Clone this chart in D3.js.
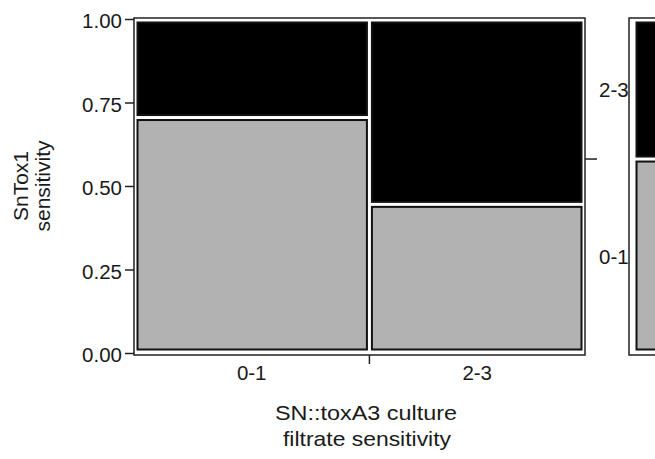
<!DOCTYPE html>
<html><head><meta charset="utf-8">
<script src="https://cdn.jsdelivr.net/npm/d3@7"></script>
<style>body{margin:0;background:#fff}svg{display:block}text{font-family:"Liberation Sans",Arial,sans-serif;fill:#1a1a1a}</style>
</head><body><svg id="c" width="655" height="459"></svg>
<script>
// Data
const xCategories = ["0-1", "2-3"];            // SN::toxA3 culture filtrate sensitivity
const yCategories = ["0-1", "2-3"];            // SnTox1 sensitivity (bottom to top)
const columnShare = [0.522, 0.478];            // relative width of each x category
const lowShare = [0.705, 0.445];               // share of "0-1" within each column
const yTicks = [0, 0.25, 0.5, 0.75, 1];
const yTickLabels = ["0.00", "0.25", "0.50", "0.75", "1.00"];
const fills = {"0-1": "#b2b2b2", "2-3": "#000000"};

const svg = d3.select("#c");
const x = d3.scaleLinear().domain([0, 1]).range([134, 585]);
const y = d3.scaleLinear().domain([0, 1]).range([353, 19]);
const pad = 3.5, gap = 2.5;
const FS = 20.5;

// outer frame
svg.append("rect").attr("x", 134).attr("y", 18).attr("width", 451).attr("height", 337)
  .attr("fill", "none").attr("stroke", "#222").attr("stroke-width", 1.5);

// tiles
let cum = 0;
const tiles = [];
xCategories.forEach((c, i) => {
  const x0 = cum, x1 = cum + columnShare[i];
  cum = x1;
  const parts = [lowShare[i], 1 - lowShare[i]];
  let yc = 0;
  yCategories.forEach((yc_, j) => {
    tiles.push({col: i, row: j, x0, x1, y0: yc, y1: yc + parts[j], cat: yc_});
    yc += parts[j];
  });
});
svg.selectAll("rect.tile").data(tiles).join("rect").attr("class", "tile")
  .attr("x", d => x(d.x0) + (d.col === 0 ? pad : gap))
  .attr("width", d => x(d.x1) - x(d.x0) - (d.col === 0 ? pad : gap) - (d.col === xCategories.length - 1 ? pad : gap))
  .attr("y", d => y(d.y1) + (d.row === yCategories.length - 1 ? pad : gap))
  .attr("height", d => y(d.y0) - y(d.y1) - (d.row === yCategories.length - 1 ? pad : gap) - (d.row === 0 ? pad : gap))
  .attr("fill", d => fills[d.cat]).attr("stroke", "#111").attr("stroke-width", 2);

// left axis
const ya = svg.append("g").attr("transform", "translate(134,0)")
  .call(d3.axisLeft(y).tickValues(yTicks).tickFormat((d, i) => yTickLabels[i]).tickSize(9).tickPadding(3));
ya.select(".domain").remove();
ya.selectAll("line").attr("stroke", "#222").attr("stroke-width", 1.5);
ya.selectAll("text").style("font-size", FS + "px").attr("fill", "#1a1a1a").attr("dy", "0.43em");

// bottom axis: tick at column boundary, labels at column centres
const bx = svg.append("g");
let c0 = 0;
const centers = [], bounds = [];
columnShare.forEach((s, i) => { centers.push(c0 + s / 2); c0 += s; if (i < columnShare.length - 1) bounds.push(c0); });
bx.selectAll("line").data(bounds).join("line")
  .attr("x1", d => x(d)).attr("x2", d => x(d)).attr("y1", 355).attr("y2", 364)
  .attr("stroke", "#222").attr("stroke-width", 1.5);
bx.selectAll("text").data(centers).join("text")
  .attr("x", d => x(d)).attr("y", 380).attr("text-anchor", "middle")
  .style("font-size", FS + "px").text((d, i) => xCategories[i]);

// right axis: marginal distribution
const marg = d3.sum(columnShare.map((s, i) => s * lowShare[i]));
svg.append("line").attr("x1", 585).attr("x2", 597).attr("y1", y(marg)).attr("y2", y(marg))
  .attr("stroke", "#222").attr("stroke-width", 1.5);
const margParts = [[0, marg], [marg, 1]];
svg.selectAll("text.rl").data(margParts).join("text").attr("class", "rl")
  .attr("x", 599).attr("y", d => y((d[0] + d[1]) / 2) + 8)
  .style("font-size", FS + "px").text((d, i) => yCategories[i]);

// marginal strip (cut off at right edge)
svg.append("rect").attr("x", 629).attr("y", 18).attr("width", 60).attr("height", 337)
  .attr("fill", "none").attr("stroke", "#222").attr("stroke-width", 1.5);
svg.selectAll("rect.m").data(margParts).join("rect").attr("class", "m")
  .attr("x", 636.5).attr("width", 40)
  .attr("y", (d, i) => y(d[1]) + (i === 1 ? pad : gap))
  .attr("height", (d, i) => y(d[0]) - y(d[1]) - (i === 1 ? pad : gap) - (i === 0 ? pad : gap))
  .attr("fill", (d, i) => fills[yCategories[i]]).attr("stroke", "#111").attr("stroke-width", 2);

// titles
svg.append("text").attr("x", 366).attr("y", 420).attr("text-anchor", "middle")
  .attr("textLength", 182).attr("lengthAdjust", "spacingAndGlyphs")
  .style("font-size", "21px").text("SN::toxA3 culture");
svg.append("text").attr("x", 367).attr("y", 446).attr("text-anchor", "middle")
  .attr("textLength", 168).attr("lengthAdjust", "spacingAndGlyphs")
  .style("font-size", "21px").text("filtrate sensitivity");
const yt = svg.append("text").attr("transform", "translate(0,186) rotate(-90)").attr("text-anchor", "middle")
  .style("font-size", "21px");
yt.append("tspan").attr("x", 0).attr("y", 28).text("SnTox1");
yt.append("tspan").attr("x", 0).attr("y", 50).text("sensitivity");
</script></body></html>
